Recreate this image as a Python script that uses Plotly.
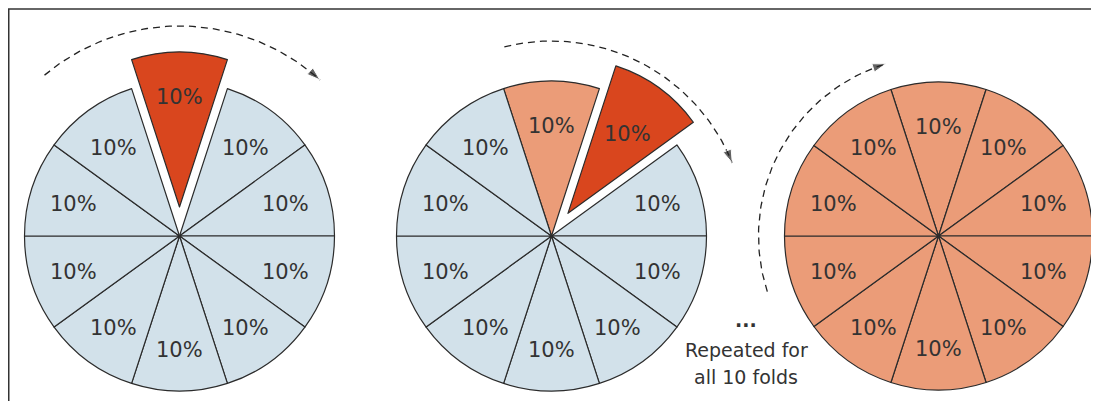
import numpy as np
import plotly.graph_objects as go

# The page body adds an 8px margin, so the figure is 8px smaller than the window
W, H = 1091, 393
OFF = 8

# Data: ten equal folds, each 10% of the data
folds = [f"Fold {i}" for i in range(1, 11)]
shares = [10] * 10

# Role of each fold in the three stages (train / validation / done)
stage1 = ["val", "train", "train", "train", "train", "train", "train", "train", "train", "train"]
stage2 = ["done", "val", "train", "train", "train", "train", "train", "train", "train", "train"]
stage3 = ["done"] * 10

COLORS = {"train": "#d2e1ea", "val": "#d9461e", "done": "#eb9c78"}
EDGE = "#2b2b2b"
TXT = dict(family="DejaVu Sans", size=21, color="#333333")


def domain(cx, cy, r):
    """Screen pixel centre/radius -> plotly domain."""
    cx, cy = cx - OFF, cy - OFF
    return dict(x=[(cx - r) / W, (cx + r) / W], y=[1 - (cy + r) / H, 1 - (cy - r) / H])


def bisectors():
    """Angle (math convention, degrees) of the middle of each slice."""
    total = sum(shares)
    edges = np.cumsum([0] + shares) / total * 360
    mids = (edges[:-1] + edges[1:]) / 2
    return 90 + 18 - mids  # first slice centred at 12 o'clock, going clockwise


def label(fig, x, y, i):
    pct = round(100 * shares[i] / sum(shares))
    fig.add_annotation(x=x, y=y, text=f"{pct}%", showarrow=False, font=TXT)


def add_pie(fig, roles, cx, cy, r, pulled=None, pull_px=0, pulled_frac=0.72):
    """Pie drawn in two traces: the base ring and the pulled-out slice."""
    angs = np.deg2rad(bisectors())
    base_col, base_w = [], []
    for i, role in enumerate(roles):
        if i == pulled:
            base_col.append("rgba(0,0,0,0)")
            base_w.append(0)
        else:
            base_col.append(COLORS[role])
            base_w.append(1.2)
            label(fig, cx + 0.72 * r * np.cos(angs[i]), cy - 0.72 * r * np.sin(angs[i]) + 2, i)
    common = dict(labels=folds, values=shares, sort=False, direction="clockwise",
                  rotation=-18, textinfo="none", hoverinfo="skip", showlegend=False)
    fig.add_trace(go.Pie(domain=domain(cx, cy, r),
                         marker=dict(colors=base_col, line=dict(color=EDGE, width=base_w)),
                         **common))
    if pulled is not None:
        # shift the slice outward along its bisector
        a = angs[pulled]
        px, py = cx + pull_px * np.cos(a), cy - pull_px * np.sin(a)
        col = ["rgba(0,0,0,0)"] * 10
        lw = [0] * 10
        col[pulled] = COLORS[roles[pulled]]
        lw[pulled] = 1.2
        fig.add_trace(go.Pie(domain=domain(px, py, r),
                             marker=dict(colors=col, line=dict(color=EDGE, width=lw)),
                             **common))
        label(fig, px + pulled_frac * r * np.cos(a), py - pulled_frac * r * np.sin(a) + 2, pulled)


fig = go.Figure()
add_pie(fig, stage1, 179.5, 236, 155, pulled=0, pull_px=29)
add_pie(fig, stage2, 551.5, 236, 155, pulled=1, pull_px=28, pulled_frac=0.65)
add_pie(fig, stage3, 938.5, 236, 154)

# Dashed rotation arrows (centre x, centre y, radius, start angle, end angle)
arcs = [(179.5, 236, 210, 130, 48), (551.5, 236, 195, 104, 22), (938.5, 236, 180, 198, 107)]
for acx, acy, ar, a0, a1 in arcs:
    t = np.deg2rad(np.linspace(a0, a1, 80))
    xs = acx + ar * np.cos(t)
    ys = acy - ar * np.sin(t)
    fig.add_trace(go.Scatter(x=xs, y=ys, mode="lines", hoverinfo="skip", showlegend=False,
                             line=dict(color="#222222", width=1.3, dash="7px,5px")))
    fig.add_trace(go.Scatter(x=xs[-2:], y=ys[-2:], mode="markers", hoverinfo="skip",
                             showlegend=False,
                             marker=dict(symbol="arrow", angleref="previous", size=[0, 14],
                                         color="#222222")))

# Frame (top and left edges)
fig.add_shape(type="line", x0=OFF + 0.75, y0=H + OFF, x1=OFF + 0.75, y1=OFF + 1,
              line=dict(color="#333333", width=1.5))
fig.add_shape(type="line", x0=OFF, y0=OFF + 1, x1=W + OFF, y1=OFF + 1,
              line=dict(color="#333333", width=1.5))

note_font = dict(family="DejaVu Sans", size=19, color="#333333")
fig.add_annotation(x=746, y=320, text="<b>...</b>", showarrow=False, font=note_font)
fig.add_annotation(x=746, y=350, text="Repeated for", showarrow=False, font=note_font)
fig.add_annotation(x=746, y=377, text="all 10 folds", showarrow=False, font=note_font)

# Axes in screen pixels so decorations line up with the pies
fig.update_xaxes(range=[OFF, W + OFF], visible=False, fixedrange=True)
fig.update_yaxes(range=[H + OFF, OFF], visible=False, fixedrange=True)
fig.update_layout(width=W, height=H, margin=dict(l=0, r=0, t=0, b=0),
                  plot_bgcolor="white", paper_bgcolor="white")

fig.write_html("out.html")
